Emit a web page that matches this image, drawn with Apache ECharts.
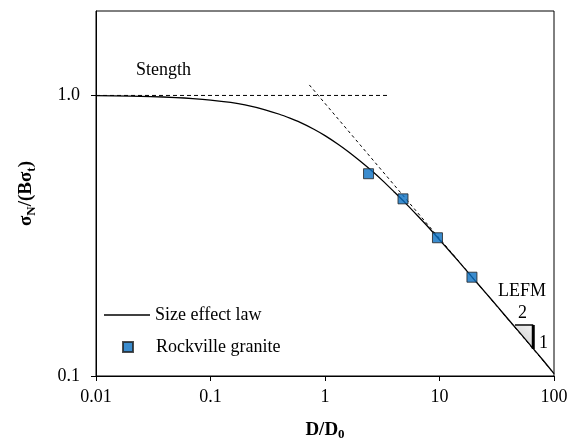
<!DOCTYPE html>
<html>
<head>
<meta charset="utf-8">
<script src="https://cdn.jsdelivr.net/npm/echarts@6/dist/echarts.min.js"></script>
<style>
html,body{margin:0;padding:0;background:#fff;}
#chart{width:580px;height:442px;}
</style>
</head>
<body>
<div id="chart"></div>
<script>
// ---- data ----
const xTickValues = [0.01, 0.1, 1, 10, 100];
const xTickLabels = ['0.01', '0.1', '1', '10', '100'];
const yTickValues = [0.1, 1];
const yTickLabels = ['0.1', '1.0'];

// Size effect law curve
const lawD = [0.01, 0.02, 0.03, 0.05, 0.07, 0.1, 0.15, 0.2, 0.3, 0.4, 0.5, 0.6, 0.8, 1.0, 1.3, 1.6, 2.0, 2.5, 3.2, 4.0, 5.0, 6.5, 8.0, 10, 13, 16, 20, 25, 32, 40, 50, 65, 80, 100];
const lawS = [0.998, 0.995, 0.991, 0.983, 0.975, 0.963, 0.944, 0.925, 0.889, 0.857, 0.828, 0.803, 0.758, 0.719, 0.670, 0.630, 0.586, 0.543, 0.496, 0.454, 0.415, 0.371, 0.339, 0.306, 0.271, 0.246, 0.221, 0.199, 0.177, 0.159, 0.143, 0.126, 0.114, 0.102];

// Rockville granite data
const graniteD = [2.4, 4.8, 9.6, 19.2];
const graniteS = [0.526, 0.428, 0.311, 0.225];

// Strength asymptote
const strengthD = [0.01, 3.5];
const strengthS = [1.0, 1.0];

// LEFM asymptote
const lefmD = [0.73, 100];
const lefmS = [1.09, 0.102];

// slope triangle (2:1)
const triD = [45.6, 65.9, 65.9];
const triS = [0.152, 0.152, 0.1248];

const zip = (a, b) => a.map((v, i) => [v, b[i]]);

const FONT = '"Liberation Serif", "Times New Roman", serif';

const chart = echarts.init(document.getElementById('chart'), null, {renderer: 'canvas'});

const legendText = {fontFamily: FONT, fontSize: 18, color: '#000'};

const option = {
  animation: false,
  backgroundColor: '#fff',
  textStyle: {fontFamily: FONT, color: '#000'},
  grid: {
    left: 96, right: 26, top: 11, bottom: 66,
    containLabel: false,
    outerBoundsMode: 'none',
    show: true, borderColor: '#000', borderWidth: 1, backgroundColor: 'transparent'
  },
  legend: [
    {
      orient: 'vertical',
      left: 99,
      top: 301,
      itemWidth: 46,
      itemHeight: 1.4,
      icon: 'rect',
      textStyle: legendText,
      data: ['Size effect law']
    },
    {
      orient: 'vertical',
      left: 117,
      top: 333,
      itemWidth: 10,
      itemHeight: 10,
      icon: 'rect',
      textStyle: Object.assign({padding: [0, 0, 0, 18]}, legendText),
      data: ['Rockville granite']
    }
  ],
  xAxis: {
    type: 'log',
    logBase: 10,
    min: 0.01,
    max: 100,
    name: '{a|D/D}{b|0}',
    nameLocation: 'middle',
    nameGap: 43,
    nameTextStyle: {
      rich: {
        a: {fontFamily: FONT, fontSize: 19, fontWeight: 'bold', color: '#000', lineHeight: 22},
        b: {fontFamily: FONT, fontSize: 13, fontWeight: 'bold', color: '#000', lineHeight: 12, verticalAlign: 'bottom'}
      }
    },
    axisLine: {show: true, lineStyle: {color: '#000', width: 1}},
    axisTick: {show: true, inside: false, length: 5, lineStyle: {color: '#000'}, customValues: xTickValues},
    axisLabel: {
      customValues: xTickValues,
      margin: 12,
      fontFamily: FONT, fontSize: 18, color: '#000',
      formatter: v => {
        const i = xTickValues.findIndex(t => Math.abs(Math.log10(t) - Math.log10(v)) < 1e-6);
        return i >= 0 ? xTickLabels[i] : '';
      }
    },
    splitLine: {show: false},
    minorTick: {show: false}
  },
  yAxis: {
    type: 'log',
    logBase: 10,
    min: 0.1,
    max: 2,
    name: '{a|σ}{b|N}{a|/(Bσ}{b|t}{a|)}',
    nameLocation: 'middle',
    nameGap: 58,
    nameTextStyle: {
      rich: {
        a: {fontFamily: FONT, fontSize: 19, fontWeight: 'bold', color: '#000', lineHeight: 24},
        b: {fontFamily: FONT, fontSize: 13, fontWeight: 'bold', color: '#000', lineHeight: 12, verticalAlign: 'bottom'}
      }
    },
    axisLine: {show: true, lineStyle: {color: '#000', width: 1}},
    axisTick: {show: true, inside: false, length: 5, lineStyle: {color: '#000'}, customValues: yTickValues},
    axisLabel: {
      customValues: yTickValues,
      margin: 16,
      fontFamily: FONT, fontSize: 18, color: '#000',
      formatter: v => {
        const i = yTickValues.findIndex(t => Math.abs(Math.log10(t) - Math.log10(v)) < 1e-6);
        return i >= 0 ? yTickLabels[i] : '';
      }
    },
    splitLine: {show: false},
    minorTick: {show: false}
  },
  series: [
    {
      name: 'Strength',
      type: 'line',
      data: zip(strengthD, strengthS),
      symbol: 'none',
      lineStyle: {color: '#000', width: 1, type: [4, 3]},
      silent: true,
      z: 2
    },
    {
      name: 'LEFM',
      type: 'line',
      data: zip(lefmD, lefmS),
      symbol: 'none',
      lineStyle: {color: '#000', width: 1, type: [3, 3]},
      silent: true,
      z: 2
    },
    {
      name: 'Slope',
      type: 'custom',
      data: [0],
      renderItem: function (params, api) {
        const pts = triD.map((d, i) => api.coord([d, triS[i]]));
        return {
          type: 'group',
          children: [
            {
              type: 'polygon',
              shape: {points: pts},
              style: {
                fill: new echarts.graphic.LinearGradient(0, 1, 1, 0, [
                  {offset: 0, color: '#c8c8c8'},
                  {offset: 1, color: '#f2f2f2'}
                ]),
                stroke: null
              }
            },
            {
              type: 'polyline',
              shape: {points: [pts[0], pts[1]]},
              style: {stroke: '#444', lineWidth: 2, fill: null}
            },
            {
              type: 'polyline',
              shape: {points: [pts[1], pts[2]]},
              style: {stroke: '#000', lineWidth: 3, fill: null}
            }
          ]
        };
      },
      z: 3,
      silent: true
    },
    {
      name: 'Size effect law',
      type: 'line',
      data: zip(lawD, lawS),
      symbol: 'none',
      smooth: 0.2,
      lineStyle: {color: '#000', width: 1.3},
      itemStyle: {color: '#000'},
      z: 4
    },
    {
      name: 'Rockville granite',
      type: 'scatter',
      data: zip(graniteD, graniteS),
      symbol: 'rect',
      symbolSize: 10,
      itemStyle: {color: '#0A6FC2', borderColor: '#222', borderWidth: 1},
      z: 5
    }
  ],
  graphic: [
    {type: 'text', left: 136, top: 61, style: {text: 'Stength', font: '18px ' + FONT, fill: '#000'}},
    {type: 'text', left: 498, top: 282, style: {text: 'LEFM', font: '18px ' + FONT, fill: '#000'}},
    {type: 'text', left: 518, top: 304, style: {text: '2', font: '18px ' + FONT, fill: '#000'}},
    {type: 'text', left: 539, top: 334, style: {text: '1', font: '18px ' + FONT, fill: '#000'}}
  ]
};

chart.setOption(option);
</script>
</body>
</html>
